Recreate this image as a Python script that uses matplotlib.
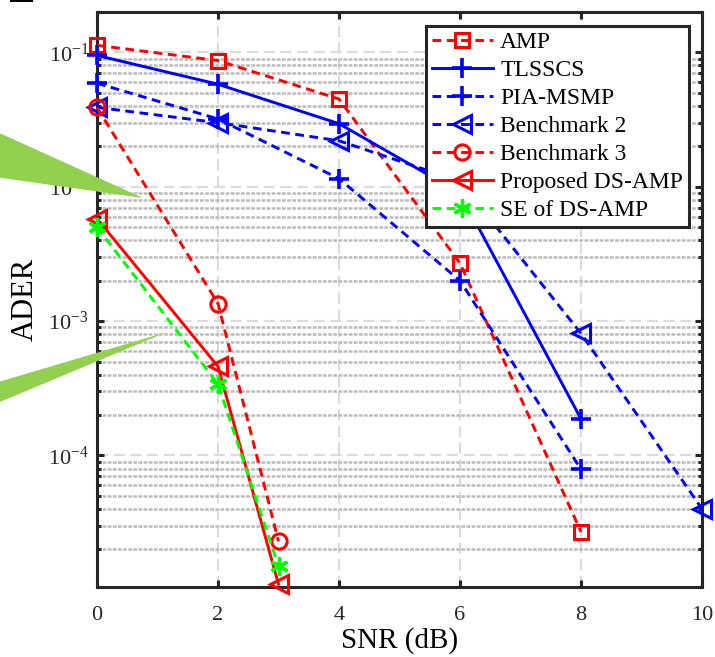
import matplotlib
matplotlib.use('Agg')
import matplotlib.pyplot as plt
import numpy as np
from matplotlib.patches import Polygon, Rectangle
from matplotlib.ticker import LogLocator, NullLocator, NullFormatter

plt.rcParams['font.family'] = ['Liberation Serif', 'DejaVu Serif']
plt.rcParams['mathtext.fontset'] = 'stix'

# data (SNR in dB, ADER)
snr_long = [0, 2, 4, 6, 8]
snr_b2 = [0, 2, 4, 6, 8, 10]
snr_short = [0, 2, 3]

amp = [0.113, 0.087, 0.045, 2.7e-3, 2.7e-5]
tlsscs = [0.095, 0.058, 0.0295, 9.0e-3, 1.87e-4]
pia_msmp = [0.059, 0.032, 0.0115, 2.0e-3, 7.9e-5]
bench2 = [0.039, 0.030, 0.022, 0.011, 8.1e-4, 4.0e-5]
bench3 = [0.039, 1.35e-3, 2.3e-5]
ds_amp = [5.8e-3, 4.6e-4, 1.1e-5]
se_ds_amp = [5.0e-3, 3.4e-4, 1.5e-5]

labels = ['AMP', 'TLSSCS', 'PIA-MSMP', 'Benchmark 2', 'Benchmark 3',
          'Proposed DS-AMP', 'SE of DS-AMP']

W, H = 715, 657
fig = plt.figure(figsize=(W / 100, H / 100), dpi=100)
ax = fig.add_axes([97 / W, 1 - 587 / H, 605 / W, 575 / H])

lw = 2.1
dash = (3.0, 1.9)
red, blue, green = '#ff0000', '#0000ff', '#00ff00'

ax.plot(snr_long, amp, color=red, lw=lw, dashes=dash, marker='s', ms=9.5,
        mfc='none', mew=2.2, clip_on=False, label=labels[0], zorder=3)
ax.plot(snr_long, tlsscs, color=blue, lw=lw, ls='-', marker='+', ms=15,
        mew=2.6, clip_on=False, label=labels[1], zorder=3)
ax.plot(snr_long, pia_msmp, color=blue, lw=lw, dashes=dash, marker='+', ms=15,
        mew=2.6, clip_on=False, label=labels[2], zorder=3)
ax.plot(snr_b2, bench2, color=blue, lw=lw, dashes=dash, marker='<', ms=13,
        mfc='none', mew=2.2, clip_on=False, label=labels[3], zorder=3)
ax.plot(snr_short, bench3, color=red, lw=lw, dashes=dash, marker='o', ms=11,
        mfc='none', mew=2.2, clip_on=False, label=labels[4], zorder=3)
ax.plot(snr_short, ds_amp, color=red, lw=lw, ls='-', marker='<', ms=13,
        mfc='none', mew=2.2, clip_on=False, label=labels[5], zorder=3)
ax.plot(snr_short, se_ds_amp, color=green, lw=lw, dashes=dash, marker=(6, 2, 0),
        ms=13, mew=2.4, clip_on=False, label=labels[6], zorder=3)

ax.set_yscale('log')
ax.set_xlim(0, 10)
ax.set_ylim(1.05e-5, 0.2)
ax.set_xticks([0, 2, 4, 6, 8, 10])
ax.xaxis.set_minor_locator(NullLocator())
ax.yaxis.set_major_locator(LogLocator(base=10, numticks=10))
ax.yaxis.set_minor_locator(LogLocator(base=10, subs=np.arange(2, 10), numticks=20))
ax.yaxis.set_minor_formatter(NullFormatter())

ax.grid(True, which='major', axis='both', color='#dcdcdc', lw=1.6, ls=(0, (5, 2.5)), zorder=0)
ax.grid(True, which='minor', axis='y', color='#bbbbbb', lw=1.8, ls=(0, (1.5, 0.55)), zorder=0)

for s in ax.spines.values():
    s.set_linewidth(2.2)
    s.set_color('#262626')
ax.tick_params(which='both', direction='in', top=True, right=True,
               colors='#262626', width=2.2)
ax.tick_params(which='major', length=5, labelsize=16, pad=14)
ax.tick_params(which='minor', length=3)
ax.tick_params(axis='y', which='major', pad=6)

ax.set_xlabel('SNR (dB)', fontsize=21, labelpad=1)
ax.set_ylabel('ADER', fontsize=22, labelpad=6)

leg = ax.legend(loc='upper right', bbox_to_anchor=(0.9785, 0.9757), borderaxespad=0,
                fontsize=17, handlelength=2.6, handletextpad=0.3, labelspacing=0.27,
                borderpad=0.25, fancybox=False, framealpha=1, edgecolor='#262626')
leg.get_frame().set_linewidth(2.2)
leg.set_zorder(5)

# green callout tails cut off at the left edge of the screenshot
def px(pts):
    return [(x / W, 1 - y / H) for x, y in pts]

fig.add_artist(Polygon(px([(-5, 131), (143, 198), (-5, 177)]), closed=True,
                       transform=fig.transFigure, fc='#92d050', ec='none', zorder=10))
fig.add_artist(Polygon(px([(-5, 383), (167, 332), (-5, 404)]), closed=True,
                       transform=fig.transFigure, fc='#92d050', ec='none', zorder=10))
fig.add_artist(Rectangle((10 / W, 1 - 2 / H), 23 / W, 2 / H, transform=fig.transFigure,
                         fc='black', ec='none', zorder=10))

fig.savefig('out.png', dpi=100)
